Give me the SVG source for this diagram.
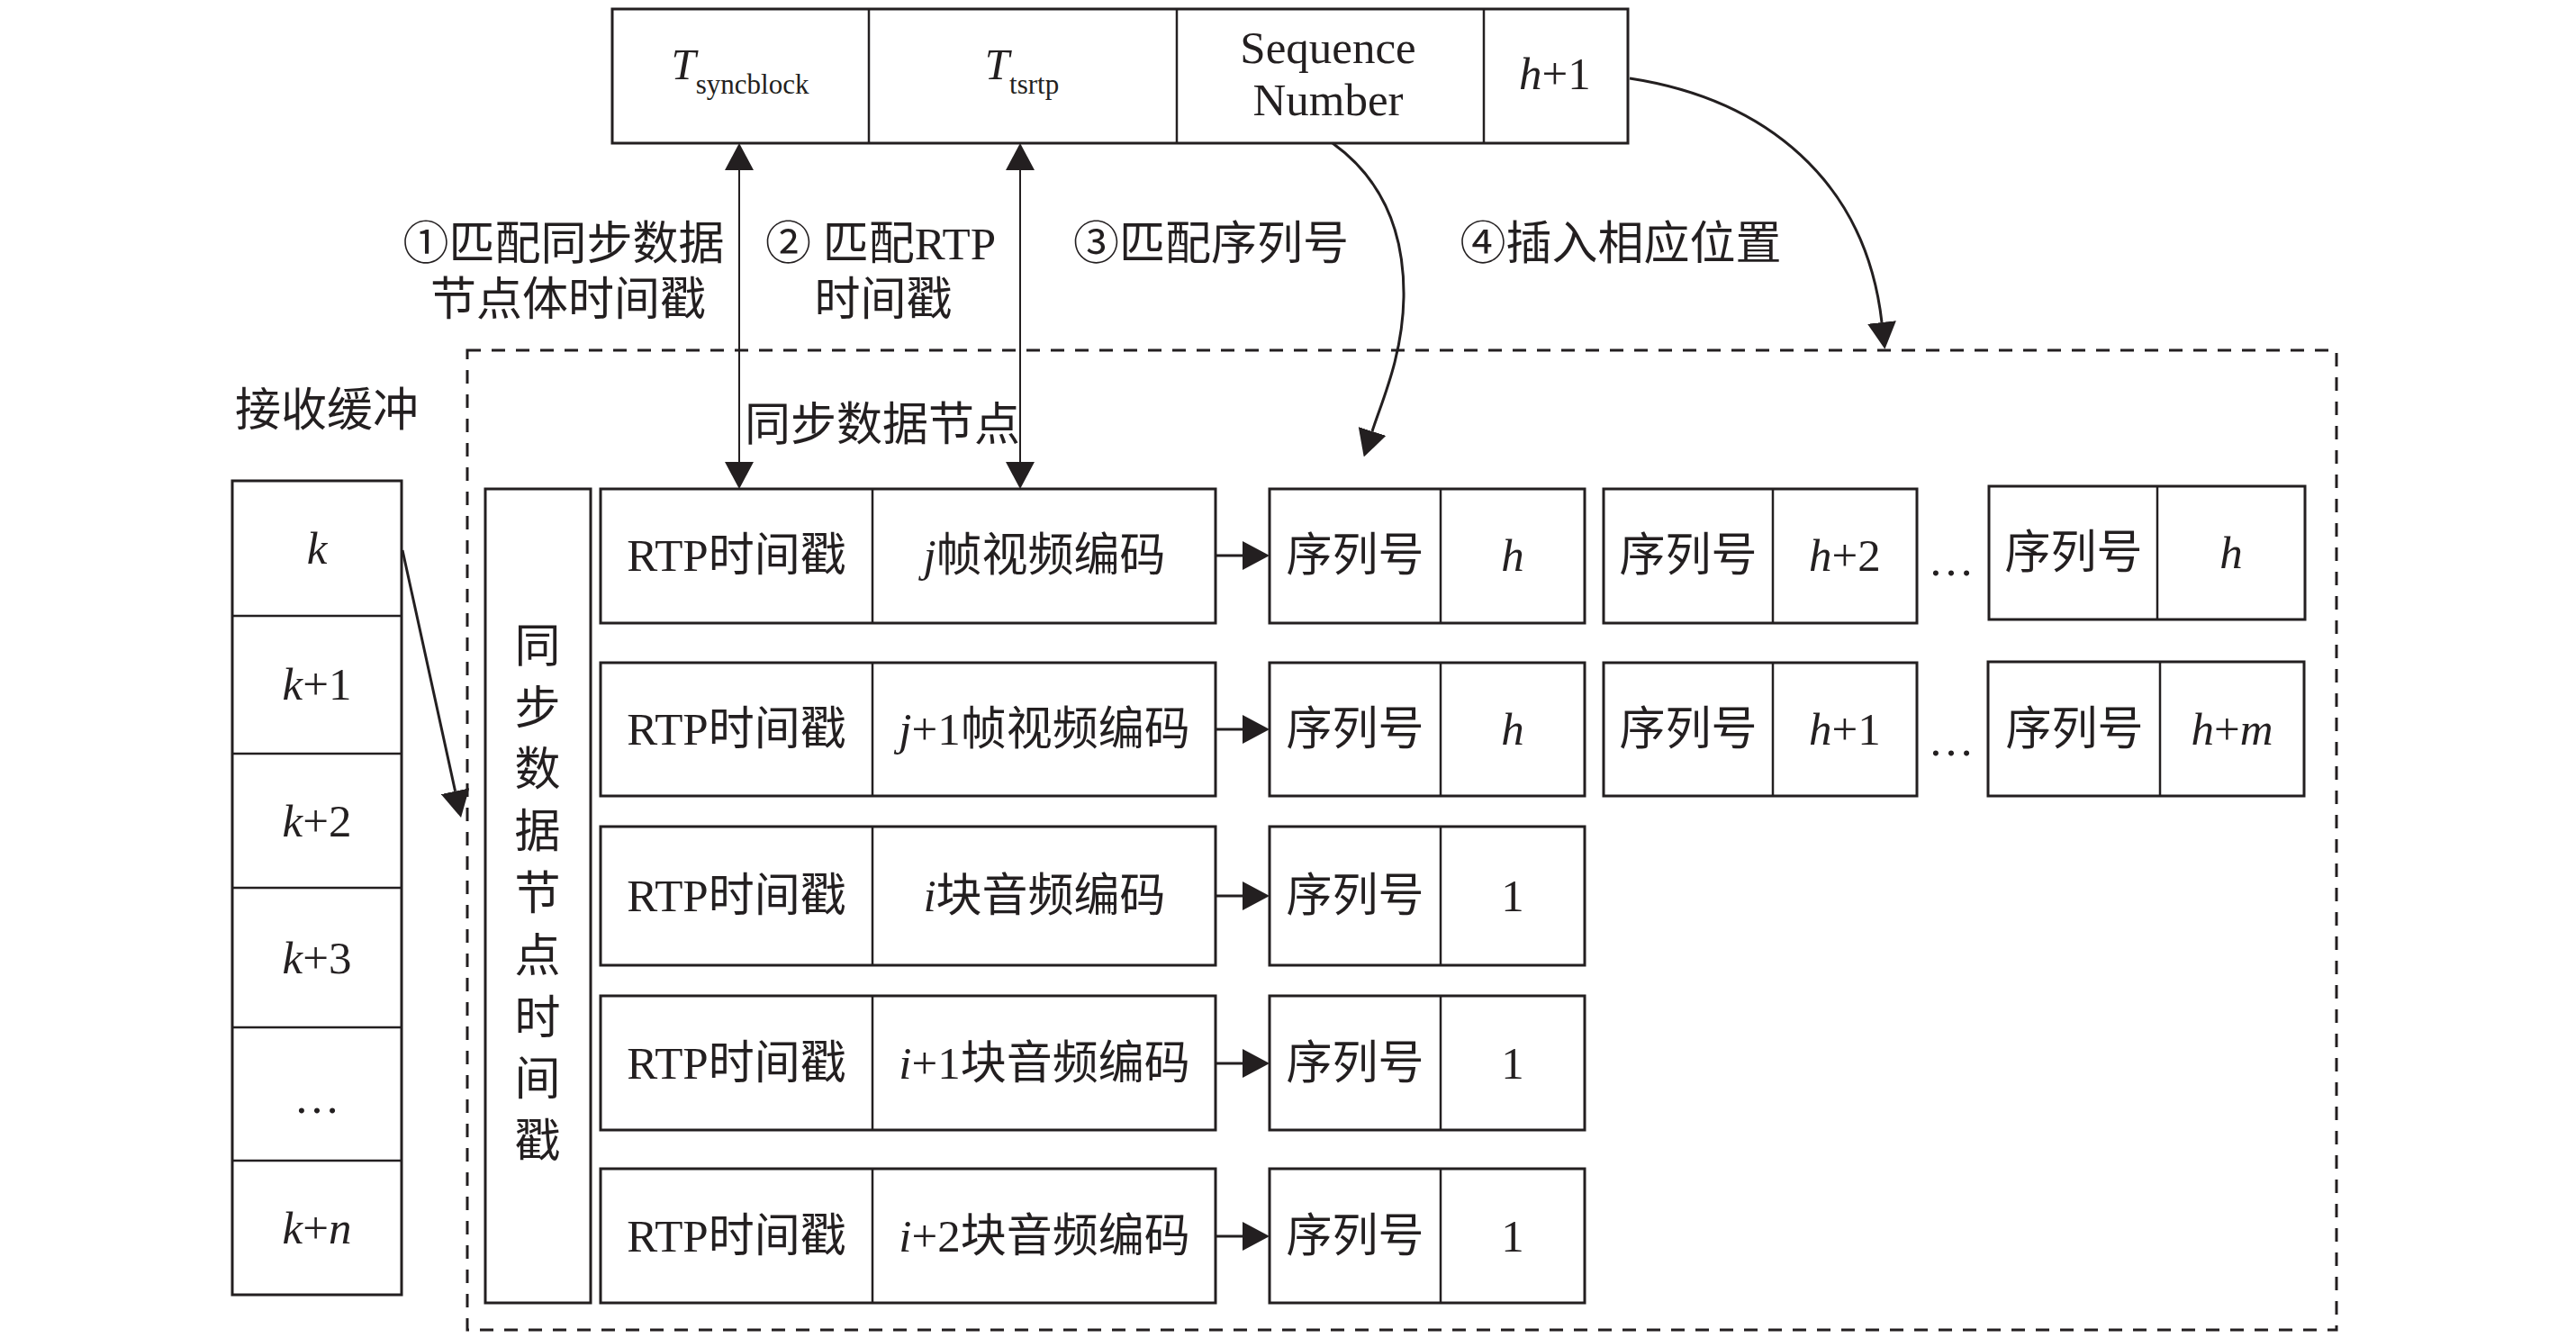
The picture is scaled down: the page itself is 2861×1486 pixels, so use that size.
<svg xmlns="http://www.w3.org/2000/svg" width="2861" height="1486" viewBox="0 0 2861 1486">
<defs>
<style>
.box{fill:#fff;stroke:#231f20;stroke-width:3}
.dv{stroke:#231f20;stroke-width:2.5}
.t{font-family:"Liberation Serif","Noto Sans CJK SC",serif;font-size:51px;fill:#231f20}
.c{text-anchor:middle;dominant-baseline:central}
.m{text-anchor:middle}
.it{font-style:italic}
.con{fill:none;stroke:#231f20;stroke-width:3}
.thin{fill:none;stroke:#231f20;stroke-width:2}
.dash{fill:none;stroke:#231f20;stroke-width:3;stroke-dasharray:15 12}
</style>
<marker id="ah" markerUnits="userSpaceOnUse" viewBox="0 0 30 32" markerWidth="30" markerHeight="32" refX="0" refY="16" orient="auto-start-reverse">
<path d="M0,0 L30,16 L0,32 z" fill="#231f20"/>
</marker>
</defs>
<rect width="2861" height="1486" fill="#fff"/>

<g id="buffer-area">
<rect class="dash" x="519" y="389" width="2076" height="1088"/>
</g>

<g id="header">
<rect class="box" x="680" y="10" width="1128" height="149"/>
<line class="dv" x1="965" y1="10" x2="965" y2="159"/>
<line class="dv" x1="1307" y1="10" x2="1307" y2="159"/>
<line class="dv" x1="1648" y1="10" x2="1648" y2="159"/>
<text class="t m" x="822" y="88"><tspan class="it" font-size="49">T</tspan><tspan font-size="31" dy="16">syncblock</tspan></text>
<text class="t m" x="1135" y="88"><tspan class="it" font-size="49">T</tspan><tspan font-size="31" dy="16">tsrtp</tspan></text>
<text class="t m" x="1475" y="70" font-size="50">Sequence</text>
<text class="t m" x="1475" y="128" font-size="50">Number</text>
<text class="t m" x="1727" y="99" font-size="50"><tspan class="it">h</tspan>+1</text>
</g>

<g id="labels">
<text class="t c" x="626" y="271">①匹配同步数据</text>
<text class="t c" x="631" y="333">节点体时间戳</text>
<text class="t c" x="978" y="271">② 匹配RTP</text>
<text class="t c" x="981" y="333">时间戳</text>
<text class="t c" x="1345" y="271">③匹配序列号</text>
<text class="t c" x="1800" y="271">④插入相应位置</text>
<text class="t c" x="980" y="472">同步数据节点</text>
<text class="t c" x="363" y="456">接收缓冲</text>
</g>

<g id="receive-buffer">
<rect class="box" x="258" y="534" width="188" height="904"/>
<line class="dv" x1="258" y1="684" x2="446" y2="684"/>
<line class="dv" x1="258" y1="837" x2="446" y2="837"/>
<line class="dv" x1="258" y1="986" x2="446" y2="986"/>
<line class="dv" x1="258" y1="1141" x2="446" y2="1141"/>
<line class="dv" x1="258" y1="1289" x2="446" y2="1289"/>
<text class="t c it" x="352" y="609">k</text>
<text class="t c" x="352" y="760"><tspan class="it">k</tspan>+1</text>
<text class="t c" x="352" y="912"><tspan class="it">k</tspan>+2</text>
<text class="t c" x="352" y="1064"><tspan class="it">k</tspan>+3</text>
<text class="t m" x="352" y="1236">…</text>
<text class="t c" x="352" y="1364"><tspan class="it">k</tspan>+<tspan class="it">n</tspan></text>
</g>

<g id="sync-node">
<rect class="box" x="539" y="543" width="117" height="904"/>
<g class="t c" font-size="48">
<text x="597" y="718">同</text>
<text x="597" y="787">步</text>
<text x="597" y="855">数</text>
<text x="597" y="924">据</text>
<text x="597" y="993">节</text>
<text x="597" y="1062">点</text>
<text x="597" y="1131">时</text>
<text x="597" y="1199">间</text>
<text x="597" y="1268">戳</text>
</g>
</g>

<g id="row1">
<rect class="box" x="667" y="543" width="683" height="149"/>
<line class="dv" x1="969" y1="543" x2="969" y2="692"/>
<text class="t c" x="818" y="617">RTP时间戳</text>
<text class="t c" x="1160" y="617"><tspan class="it">j</tspan>帧视频编码</text>
</g>
<g id="row1-seq1">
<rect class="box" x="1410" y="543" width="350" height="149"/>
<line class="dv" x1="1600" y1="543" x2="1600" y2="692"/>
<text class="t c" x="1505" y="617">序列号</text>
<text class="t c it" x="1680" y="617">h</text>
</g>
<g id="row1-seq2">
<rect class="box" x="1781" y="543" width="348" height="149"/>
<line class="dv" x1="1969" y1="543" x2="1969" y2="692"/>
<text class="t c" x="1875" y="617">序列号</text>
<text class="t c" x="2049" y="617"><tspan class="it">h</tspan>+2</text>
</g>
<text class="t m" x="2167" y="639">…</text>
<g id="row1-seq3">
<rect class="box" x="2209" y="540" width="351" height="148"/>
<line class="dv" x1="2396" y1="540" x2="2396" y2="688"/>
<text class="t c" x="2303" y="614">序列号</text>
<text class="t c it" x="2478" y="614">h</text>
</g>

<g id="row2">
<rect class="box" x="667" y="736" width="683" height="148"/>
<line class="dv" x1="969" y1="736" x2="969" y2="884"/>
<text class="t c" x="818" y="810">RTP时间戳</text>
<text class="t c" x="1160" y="810"><tspan class="it">j</tspan>+1帧视频编码</text>
</g>
<g id="row2-seq1">
<rect class="box" x="1410" y="736" width="350" height="148"/>
<line class="dv" x1="1600" y1="736" x2="1600" y2="884"/>
<text class="t c" x="1505" y="810">序列号</text>
<text class="t c it" x="1680" y="810">h</text>
</g>
<g id="row2-seq2">
<rect class="box" x="1781" y="736" width="348" height="148"/>
<line class="dv" x1="1969" y1="736" x2="1969" y2="884"/>
<text class="t c" x="1875" y="810">序列号</text>
<text class="t c" x="2049" y="810"><tspan class="it">h</tspan>+1</text>
</g>
<text class="t m" x="2167" y="839">…</text>
<g id="row2-seq3">
<rect class="box" x="2208" y="735" width="351" height="149"/>
<line class="dv" x1="2399" y1="735" x2="2399" y2="884"/>
<text class="t c" x="2304" y="810">序列号</text>
<text class="t c" x="2479" y="810"><tspan class="it">h</tspan>+<tspan class="it">m</tspan></text>
</g>

<g id="row3">
<rect class="box" x="667" y="918" width="683" height="154"/>
<line class="dv" x1="969" y1="918" x2="969" y2="1072"/>
<text class="t c" x="818" y="995">RTP时间戳</text>
<text class="t c" x="1160" y="995"><tspan class="it">i</tspan>块音频编码</text>
</g>
<g id="row3-seq">
<rect class="box" x="1410" y="918" width="350" height="154"/>
<line class="dv" x1="1600" y1="918" x2="1600" y2="1072"/>
<text class="t c" x="1505" y="995">序列号</text>
<text class="t c" x="1680" y="995">1</text>
</g>

<g id="row4">
<rect class="box" x="667" y="1106" width="683" height="149"/>
<line class="dv" x1="969" y1="1106" x2="969" y2="1255"/>
<text class="t c" x="818" y="1181">RTP时间戳</text>
<text class="t c" x="1160" y="1181"><tspan class="it">i</tspan>+1块音频编码</text>
</g>
<g id="row4-seq">
<rect class="box" x="1410" y="1106" width="350" height="149"/>
<line class="dv" x1="1600" y1="1106" x2="1600" y2="1255"/>
<text class="t c" x="1505" y="1181">序列号</text>
<text class="t c" x="1680" y="1181">1</text>
</g>

<g id="row5">
<rect class="box" x="667" y="1298" width="683" height="149"/>
<line class="dv" x1="969" y1="1298" x2="969" y2="1447"/>
<text class="t c" x="818" y="1373">RTP时间戳</text>
<text class="t c" x="1160" y="1373"><tspan class="it">i</tspan>+2块音频编码</text>
</g>
<g id="row5-seq">
<rect class="box" x="1410" y="1298" width="350" height="149"/>
<line class="dv" x1="1600" y1="1298" x2="1600" y2="1447"/>
<text class="t c" x="1505" y="1373">序列号</text>
<text class="t c" x="1680" y="1373">1</text>
</g>

<g id="connectors">
<line class="thin" x1="821" y1="189" x2="821" y2="513" marker-start="url(#ah)" marker-end="url(#ah)"/>
<line class="thin" x1="1133" y1="189" x2="1133" y2="513" marker-start="url(#ah)" marker-end="url(#ah)"/>
<path class="con" d="M1480,159 C1530,195 1560,250 1559,330 C1558,395 1535,445 1524,479" marker-end="url(#ah)"/>
<path class="con" d="M1810,87 C1960,110 2072,200 2090,358" marker-end="url(#ah)"/>
<line class="con" x1="447" y1="611" x2="505.6" y2="878.7" marker-end="url(#ah)"/>
<line class="con" x1="1350" y1="617" x2="1380" y2="617" marker-end="url(#ah)"/>
<line class="con" x1="1350" y1="810" x2="1380" y2="810" marker-end="url(#ah)"/>
<line class="con" x1="1350" y1="995" x2="1380" y2="995" marker-end="url(#ah)"/>
<line class="con" x1="1350" y1="1181" x2="1380" y2="1181" marker-end="url(#ah)"/>
<line class="con" x1="1350" y1="1373" x2="1380" y2="1373" marker-end="url(#ah)"/>
</g>
</svg>
